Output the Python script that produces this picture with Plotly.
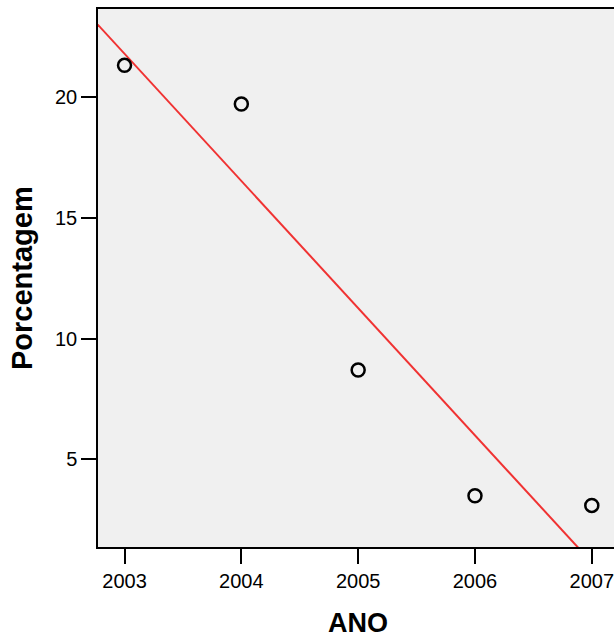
import numpy as np
import plotly.graph_objects as go

anos = [2003, 2004, 2005, 2006, 2007]
porcentagem = [21.3, 19.7, 8.7, 3.5, 3.1]
y_ticks = [5, 10, 15, 20]
x_title = "ANO"
y_title = "Porcentagem"

X_RANGE = [2002.773, 2007.19]
Y_RANGE = [1.38, 23.63]

slope, intercept = np.polyfit(anos, porcentagem, 1)
fit_x = np.array([X_RANGE[0] - 0.1, X_RANGE[1] + 0.1])
fit_y = slope * fit_x + intercept

fig = go.Figure()
fig.add_trace(go.Scatter(x=fit_x, y=fit_y, mode="lines",
                         line=dict(color="#F03232", width=2), hoverinfo="skip"))
fig.add_trace(go.Scatter(x=anos, y=porcentagem, mode="markers",
                         marker=dict(symbol="circle-open", size=13, color="black",
                                     line=dict(width=2.5, color="black"))))

font = "Liberation Sans, Arial, sans-serif"
fig.update_layout(
    width=614, height=637,
    margin=dict(l=98, r=0, t=9, b=90),
    paper_bgcolor="white", plot_bgcolor="#F0F0F0",
    showlegend=False,
    font=dict(family=font, size=20, color="black"),
    xaxis=dict(range=X_RANGE, tickvals=anos, ticktext=[str(a) for a in anos],
               showgrid=False, zeroline=False, showline=True, linecolor="black",
               linewidth=1.5, mirror=True, ticks="outside", ticklen=15, tickwidth=1.5,
               tickcolor="black", tickfont=dict(size=20), ticklabeloverflow="allow"),
    yaxis=dict(range=Y_RANGE, tickvals=y_ticks, showgrid=False, zeroline=False,
               showline=True, linecolor="black", linewidth=1.5, ticks="outside",
               ticklen=15, tickwidth=1.5, tickcolor="black", tickfont=dict(size=20)),
    annotations=[
        dict(text="<b>%s</b>" % x_title, x=2005, xref="x", y=0, yref="paper",
             yanchor="middle", yshift=-76, showarrow=False,
             font=dict(size=27, family=font)),
        dict(text="<b>%s</b>" % y_title, x=0, xref="paper", y=0.5, yref="paper",
             xanchor="center", xshift=-76, textangle=-90, showarrow=False,
             font=dict(size=29, family=font)),
    ],
)
fig.write_html("out.html", config={"displayModeBar": False},
               post_script="document.body.style.margin='0';document.body.style.overflow='hidden';")
